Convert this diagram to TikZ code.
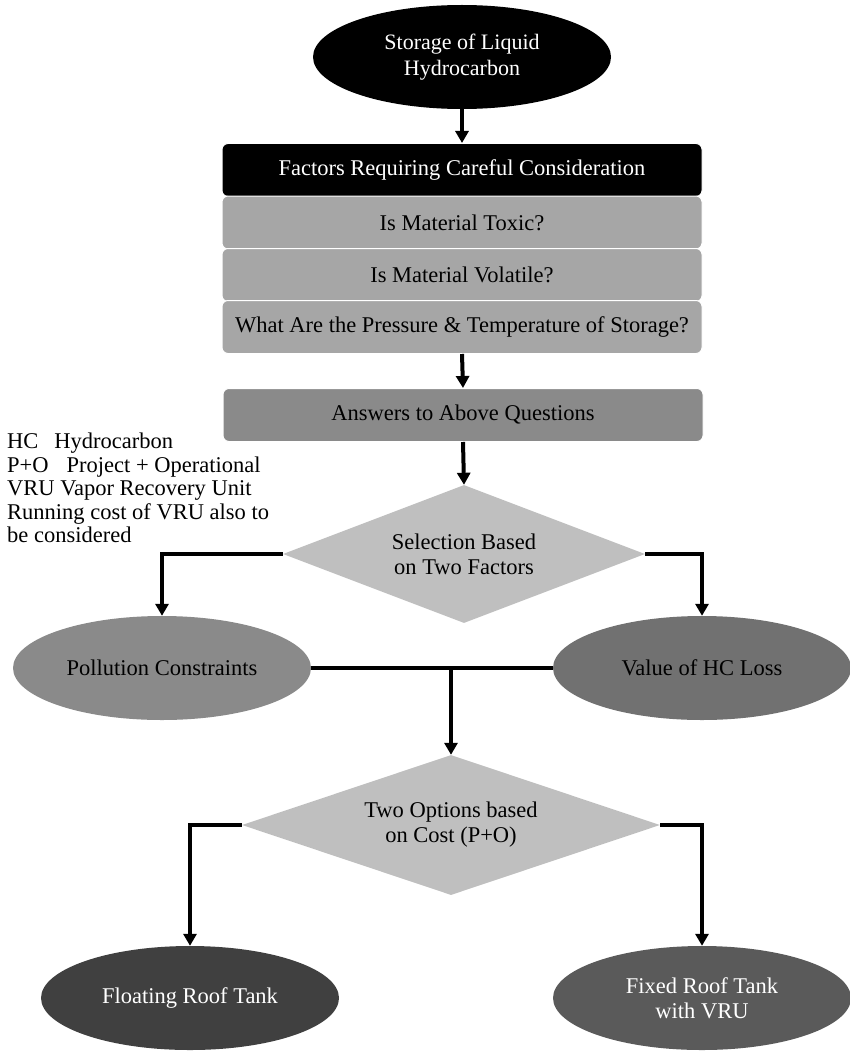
\documentclass[tikz,border=0pt]{standalone}
\usepackage{fontspec}
\setmainfont{Liberation Serif}
\usetikzlibrary{shapes.geometric,arrows.meta}
\definecolor{qgray}{HTML}{A6A6A6}
\definecolor{agray}{HTML}{8A8A8A}
\definecolor{dgray}{HTML}{BFBFBF}
\definecolor{pgray}{HTML}{8A8A8A}
\definecolor{vgray}{HTML}{717171}
\definecolor{fgray}{HTML}{404040}
\definecolor{xgray}{HTML}{5A5A5A}
\begin{document}
\begin{tikzpicture}[x=1pt,y=-1pt,
  txt/.style={font=\fontsize{22.5}{25}\selectfont},
  conn/.style={line width=4pt,-{Triangle[length=12pt,width=13pt]}},
  link/.style={line width=4pt},
  oval/.style={ellipse,minimum width=298pt,minimum height=104pt,inner sep=0pt,align=center,txt},
  qbox/.style={rectangle,rounded corners=6pt,minimum width=480pt,minimum height=53pt,inner sep=0pt,draw=white,line width=1pt,txt},
  decision/.style={diamond,fill=dgray,inner sep=0pt,align=center,txt}]
\useasboundingbox (0,0) rectangle (849,1051);

% question stack
\node[oval,fill=black,text=white,font=\fontsize{22}{26}\selectfont] (store) at (462,57) {Storage of Liquid\\Hydrocarbon};
\node[qbox,fill=black,text=white] (factors) at (462,170) {Factors Requiring Careful Consideration};
\node[qbox,fill=qgray] (toxic) at (462,222.5) {Is Material Toxic?};
\node[qbox,fill=qgray] (volatile) at (462,275) {Is Material Volatile?};
\node[qbox,fill=qgray] (press) at (462,327) {What Are the Pressure \& Temperature of Storage?};
\node[qbox,fill=agray] (answers) at (463,415) {Answers to Above Questions};

% first decision
\node[decision,aspect=2.62,minimum width=362pt,minimum height=138pt] (select) at (464,554) {Selection Based\\on Two Factors};
\node[oval,fill=pgray] (pollution) at (162,668) {Pollution Constraints};
\node[oval,fill=vgray] (value) at (702,668) {Value of HC Loss};

% second decision
\node[decision,aspect=2.99,minimum width=418pt,minimum height=140pt] (options) at (451,825) {Two Options based\\on Cost (P+O)};
\node[oval,fill=fgray,text=white] (floating) at (190,998) {Floating Roof Tank};
\node[oval,fill=xgray,text=white] (fixed) at (702,998) {Fixed Roof Tank\\with VRU};

% abbreviations
\node[anchor=north west,align=left,inner sep=0pt,font=\fontsize{22.5}{23.5}\selectfont] (legend) at (7,433)
  {HC\hspace{16pt}Hydrocarbon\\P+O\hspace{18pt}Project + Operational\\VRU Vapor Recovery Unit\\Running cost of VRU also to\\be considered};

% connectors
\draw[conn] (store.south) -- (factors.north);
\draw[conn] (press.south) -- (answers.north);
\draw[conn] (answers.south) -- (select.north);
\draw[conn] (select.west) -| (pollution.north);
\draw[conn] (select.east) -| (value.north);
\draw[link] (pollution.east) -- (value.west);
\coordinate (merge) at (451,668);
\draw[conn] (merge) -- (options.north);
\draw[conn] (options.west) -| (floating.north);
\draw[conn] (options.east) -| (fixed.north);
\end{tikzpicture}
\end{document}
